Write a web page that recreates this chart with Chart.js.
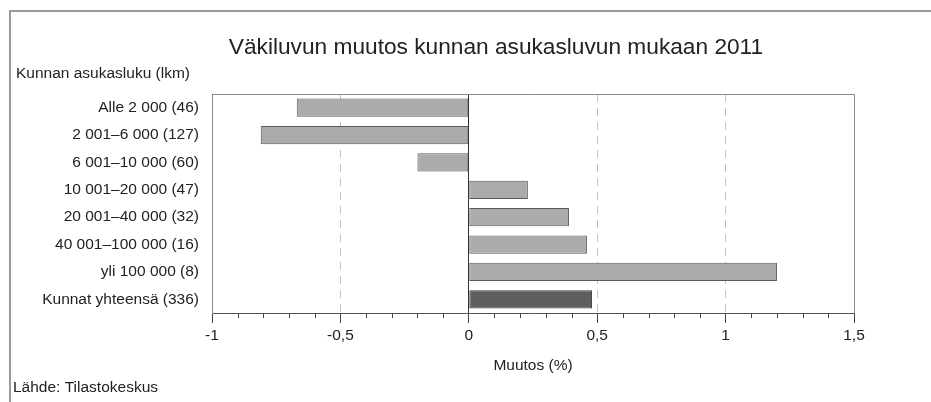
<!DOCTYPE html>
<html>
<head>
<meta charset="utf-8">
<script src="https://cdn.jsdelivr.net/npm/chart.js@4/dist/chart.umd.min.js"></script>
<style>
html,body{margin:0;padding:0;background:#fff;}
#wrap{width:931px;height:402px;position:relative;}
</style>
</head>
<body>
<div id="wrap"><canvas id="c" width="931" height="402"></canvas></div>
<script>
const categories = [
  'Alle 2 000 (46)',
  '2 001–6 000 (127)',
  '6 001–10 000 (60)',
  '10 001–20 000 (47)',
  '20 001–40 000 (32)',
  '40 001–100 000 (16)',
  'yli 100 000 (8)',
  'Kunnat yhteensä (336)'
];
const changes = [-0.67, -0.81, -0.20, 0.23, 0.39, 0.46, 1.20, 0.48];
const xTickValues = [-1, -0.5, 0, 0.5, 1, 1.5];
const titleText = 'Väkiluvun muutos kunnan asukasluvun mukaan 2011';
const yAxisTitle = 'Kunnan asukasluku (lkm)';
const xAxisTitle = 'Muutos (%)';
const sourceText = 'Lähde: Tilastokeskus';

const FONT = '"Liberation Sans", Arial, sans-serif';
const SMALL = 15.5;
const fills = categories.map((c, i) => i === categories.length - 1 ? '#5e5e5e' : '#ababab');
const borders = categories.map((c, i) => i === categories.length - 1 ? '#3c3c3c' : '#5a5a5a');

const decor = {
  id: 'decor',
  beforeDraw(chart) {
    const ctx = chart.ctx;
    ctx.save();
    ctx.fillStyle = '#fff';
    ctx.fillRect(0, 0, chart.width, chart.height);
    ctx.strokeStyle = '#9a9a9a';
    ctx.lineWidth = 2;
    ctx.beginPath();
    ctx.moveTo(10, chart.height);
    ctx.lineTo(10, 11);
    ctx.lineTo(chart.width, 11);
    ctx.stroke();
    ctx.restore();
  },
  afterDraw(chart) {
    const ctx = chart.ctx;
    const a = chart.chartArea;
    const xs = chart.scales.x;
    ctx.save();
    // plot frame top and right
    ctx.strokeStyle = '#8a8a8a';
    ctx.lineWidth = 1;
    ctx.beginPath();
    ctx.moveTo(a.left, a.top + 0.5);
    ctx.lineTo(a.right + 0.5, a.top + 0.5);
    ctx.lineTo(a.right + 0.5, a.bottom);
    ctx.stroke();
    // minor ticks
    ctx.strokeStyle = '#444';
    ctx.beginPath();
    for (let i = -10; i <= 15; i++) {
      if (i % 5 === 0) continue;
      const px = Math.round(xs.getPixelForValue(i / 10)) + 0.5;
      ctx.moveTo(px, a.bottom);
      ctx.lineTo(px, a.bottom + 5);
    }
    ctx.stroke();
    // texts
    ctx.fillStyle = '#222';
    ctx.textBaseline = 'middle';
    ctx.font = '22.7px ' + FONT;
    ctx.textAlign = 'center';
    ctx.fillText(titleText, 496, 48);
    ctx.font = SMALL + 'px ' + FONT;
    ctx.textAlign = 'left';
    ctx.fillText(yAxisTitle, 16, 74);
    ctx.fillText(sourceText, 13, 388);
    ctx.restore();
  }
};

new Chart(document.getElementById('c'), {
  type: 'bar',
  data: {
    labels: categories,
    datasets: [{
      data: changes,
      backgroundColor: fills,
      borderColor: borders,
      borderWidth: 1,
      borderSkipped: false,
      barPercentage: 0.67,
      categoryPercentage: 1.0
    }]
  },
  options: {
    indexAxis: 'y',
    responsive: false,
    animation: false,
    events: [],
    layout: { padding: { left: 12, right: 77, top: 94, bottom: 14 } },
    plugins: { legend: { display: false }, tooltip: { enabled: false }, title: { display: false } },
    scales: {
      x: {
        min: -1,
        max: 1.5,
        afterBuildTicks(scale) { scale.ticks = xTickValues.map(v => ({ value: v })); },
        afterFit(scale) { scale.height = 75; },
        grid: {
          color: (c) => {
            if (!c.tick) return '#bbb';
            const v = c.tick.value;
            if (v === 0) return '#333';
            if (v === -1 || v === 1.5) return 'rgba(0,0,0,0)';
            return '#c4c4c4';
          },
          lineWidth: 1,
          drawTicks: true,
          tickLength: 10,
          tickColor: '#444',
          tickWidth: 1
        },
        border: {
          display: true,
          color: '#555',
          width: 1,
          dash: (c) => (c.tick && c.tick.value !== 0) ? [8, 6] : []
        },
        ticks: {
          padding: 3,
          color: '#222',
          font: { family: FONT, size: SMALL },
          maxRotation: 0,
          callback: (v) => String(v).replace('.', ',')
        },
        title: {
          display: true,
          text: xAxisTitle,
          color: '#222',
          font: { family: FONT, size: SMALL },
          padding: { top: 0, bottom: 13 }
        }
      },
      y: {
        afterFit(scale) { scale.width = 200; },
        grid: { display: false, drawTicks: false },
        border: { display: true, color: '#8a8a8a', width: 1 },
        ticks: {
          padding: 13,
          color: '#222',
          font: { family: FONT, size: SMALL },
          autoSkip: false
        }
      }
    }
  },
  plugins: [decor]
});
</script>
</body>
</html>
